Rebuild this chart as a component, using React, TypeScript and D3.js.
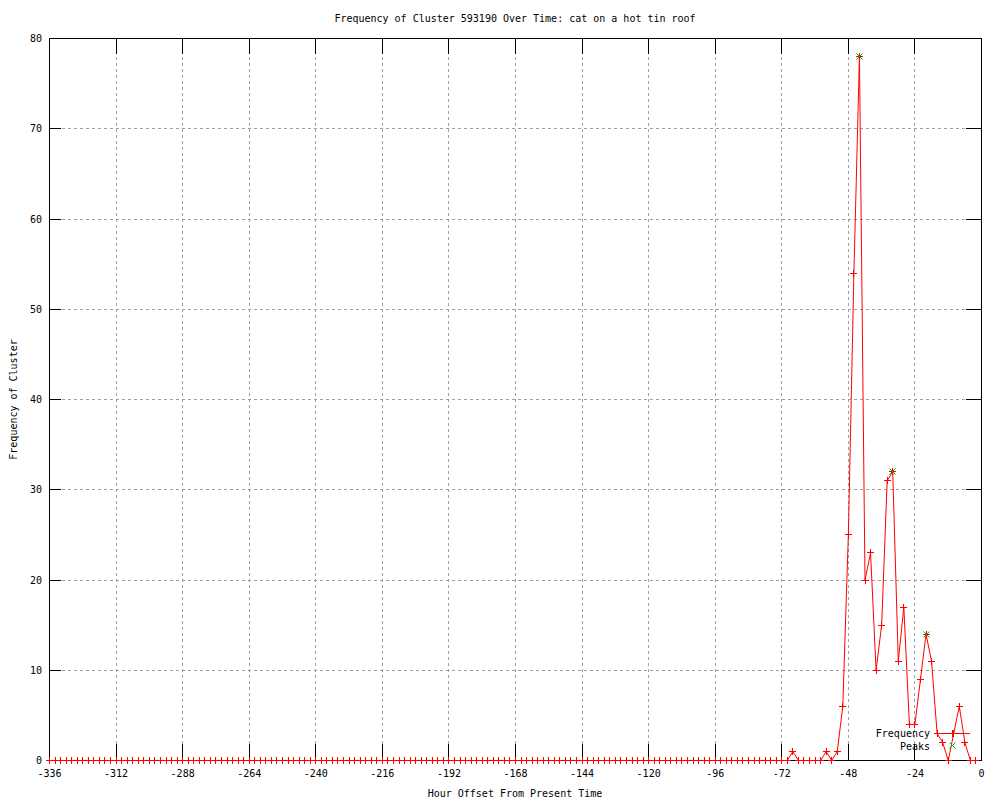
import React, { useRef, useEffect } from 'react';
import * as d3 from 'd3';

const WIDTH = 1000;
const HEIGHT = 800;
const PLOT = { left: 49.5, right: 981.5, top: 38.5, bottom: 760.5 };
const FONT = '"DejaVu Sans Mono", "Liberation Mono", monospace';

const TITLE = 'Frequency of Cluster 593190 Over Time: cat on a hot tin roof';
const X_LABEL = 'Hour Offset From Present Time';
const Y_LABEL = 'Frequency of Cluster';

const X_TICKS = [-336, -312, -288, -264, -240, -216, -192, -168, -144, -120, -96, -72, -48, -24, 0];
const Y_TICKS = [0, 10, 20, 30, 40, 50, 60, 70, 80];

// one reading every 2 hours, -336 .. -2
const HOURS = d3.range(-336, 0, 2);
const FREQUENCY = [
  0, 0, 0, 0, 0, 0, 0, 0, 0, 0, 0, 0,
  0, 0, 0, 0, 0, 0, 0, 0, 0, 0, 0, 0,
  0, 0, 0, 0, 0, 0, 0, 0, 0, 0, 0, 0,
  0, 0, 0, 0, 0, 0, 0, 0, 0, 0, 0, 0,
  0, 0, 0, 0, 0, 0, 0, 0, 0, 0, 0, 0,
  0, 0, 0, 0, 0, 0, 0, 0, 0, 0, 0, 0,
  0, 0, 0, 0, 0, 0, 0, 0, 0, 0, 0, 0,
  0, 0, 0, 0, 0, 0, 0, 0, 0, 0, 0, 0,
  0, 0, 0, 0, 0, 0, 0, 0, 0, 0, 0, 0,
  0, 0, 0, 0, 0, 0, 0, 0, 0, 0, 0, 0,
  0, 0, 0, 0, 0, 0, 0, 0, 0, 0, 0, 0,
  0, 0, 1, 0, 0, 0, 0, 0, 1, 0, 1, 6,
  25, 54, 78, 20, 23, 10, 15, 31, 32, 11, 17, 4,
  4, 9, 14, 11, 3, 2, 0, 3, 6, 2, 0, 0,
];

const PEAK_HOURS = [-44, -32, -20];
const PEAK_VALUES = [78, 32, 14];

const RED = '#ff0000';
const GREEN = '#00b000';

export default function App() {
  const svgRef = useRef<SVGSVGElement>(null);

  useEffect(() => {
    if (!svgRef.current) return;
    const svg = d3.select(svgRef.current);
    svg.selectAll('*').remove();

    const x = d3.scaleLinear().domain([-336, 0]).range([PLOT.left, PLOT.right]);
    const y = d3.scaleLinear().domain([0, 80]).range([PLOT.bottom, PLOT.top]);
    const px = (v: number) => Math.round(x(v) - 0.5) + 0.5;
    const py = (v: number) => Math.round(y(v) - 0.5) + 0.5;

    const plus = (cx: number, cy: number, s = 3.5) => `M${cx - s},${cy}h${2 * s}M${cx},${cy - s}v${2 * s}`;
    const cross = (cx: number, cy: number, s = 3) => `M${cx - s},${cy - s}l${2 * s},${2 * s}M${cx - s},${cy + s}l${2 * s},${-2 * s}`;

    // grid
    const grid = svg.append('g').attr('stroke', '#a0a0a0').attr('stroke-dasharray', '3,3').attr('shape-rendering', 'crispEdges');
    grid.selectAll('line.gx')
      .data(X_TICKS.slice(1, -1))
      .join('line')
      .attr('x1', d => px(d)).attr('x2', d => px(d))
      .attr('y1', PLOT.top).attr('y2', PLOT.bottom);
    grid.selectAll('line.gy')
      .data(Y_TICKS.slice(1, -1))
      .join('line')
      .attr('x1', PLOT.left).attr('x2', PLOT.right)
      .attr('y1', d => py(d)).attr('y2', d => py(d));

    // ticks + frame
    const axes = svg.append('g').attr('stroke', '#000').attr('shape-rendering', 'crispEdges');
    X_TICKS.forEach(t => {
      axes.append('line').attr('x1', px(t)).attr('x2', px(t)).attr('y1', PLOT.bottom).attr('y2', PLOT.bottom - 17);
      axes.append('line').attr('x1', px(t)).attr('x2', px(t)).attr('y1', PLOT.top).attr('y2', PLOT.top + 15);
    });
    Y_TICKS.forEach(t => {
      axes.append('line').attr('x1', PLOT.left).attr('x2', PLOT.left + 11).attr('y1', py(t)).attr('y2', py(t));
      axes.append('line').attr('x1', PLOT.right).attr('x2', PLOT.right - 16).attr('y1', py(t)).attr('y2', py(t));
    });
    axes.append('rect')
      .attr('x', PLOT.left).attr('y', PLOT.top)
      .attr('width', PLOT.right - PLOT.left).attr('height', PLOT.bottom - PLOT.top)
      .attr('fill', 'none');

    // labels
    const txt = svg.append('g').attr('font-family', FONT).attr('font-size', 10).attr('fill', '#000');
    txt.selectAll('text.xt')
      .data(X_TICKS)
      .join('text')
      .attr('x', d => x(d)).attr('y', 777)
      .attr('text-anchor', 'middle')
      .text(d => String(d));
    txt.selectAll('text.yt')
      .data(Y_TICKS)
      .join('text')
      .attr('x', 42).attr('y', d => y(d) + 3.5)
      .attr('text-anchor', 'end')
      .text(d => String(d));
    txt.append('text').attr('x', 515).attr('y', 22).attr('text-anchor', 'middle').text(TITLE);
    txt.append('text').attr('x', 515).attr('y', 797).attr('text-anchor', 'middle').text(X_LABEL);
    txt.append('text')
      .attr('transform', `translate(17,${(PLOT.top + PLOT.bottom) / 2}) rotate(-90)`)
      .attr('text-anchor', 'middle')
      .text(Y_LABEL);

    // frequency line
    const data = HOURS.map((h, i) => ({ h, v: FREQUENCY[i] }));
    const line = d3.line<{ h: number; v: number }>().x(d => x(d.h)).y(d => y(d.v));
    svg.append('path')
      .datum(data)
      .attr('d', line)
      .attr('fill', 'none')
      .attr('stroke', RED)
      .attr('stroke-width', 1);
    svg.append('path')
      .attr('d', data.map(d => plus(px(d.h), py(d.v))).join(''))
      .attr('stroke', RED)
      .attr('fill', 'none')
      .attr('shape-rendering', 'crispEdges');

    // peaks
    svg.append('path')
      .attr('d', PEAK_HOURS.map((h, i) => cross(px(h), py(PEAK_VALUES[i]))).join(''))
      .attr('stroke', GREEN)
      .attr('fill', 'none');

    // legend
    const leg = svg.append('g');
    leg.append('text').attr('x', 930).attr('y', 737).attr('text-anchor', 'end')
      .attr('font-family', FONT).attr('font-size', 10).text('Frequency');
    leg.append('text').attr('x', 930).attr('y', 750).attr('text-anchor', 'end')
      .attr('font-family', FONT).attr('font-size', 10).text('Peaks');
    leg.append('line').attr('x1', 935).attr('x2', 970).attr('y1', 733.5).attr('y2', 733.5)
      .attr('stroke', RED).attr('shape-rendering', 'crispEdges');
    leg.append('path').attr('d', plus(952.5, 733.5)).attr('stroke', RED).attr('shape-rendering', 'crispEdges');
    leg.append('path').attr('d', cross(952.5, 745.5)).attr('stroke', GREEN);
  }, []);

  return (
    <svg
      ref={svgRef}
      width={WIDTH}
      height={HEIGHT}
      style={{ position: 'absolute', left: 0, top: 0, background: '#fff' }}
    />
  );
}
